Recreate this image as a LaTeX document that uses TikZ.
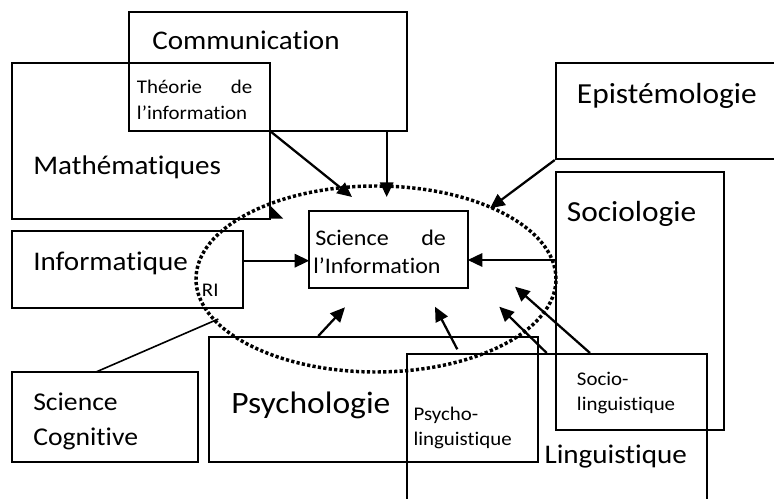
\documentclass[tikz,border=0pt]{standalone}
\usepackage{fontspec}
\setmainfont{Carlito}[FakeStretch=1.08,Ligatures=NoCommon]
\usetikzlibrary{arrows.meta,shapes.geometric}
\begin{document}
\begin{tikzpicture}[x=0.75pt,y=-0.75pt,
  box/.style={draw,line width=1.5pt,rectangle,inner sep=0pt},
  arr/.style={line width=1.7pt,-{Triangle[length=11pt,width=10pt]}},
  big/.style={anchor=base west,inner sep=0pt,font=\fontsize{20.2}{24}\selectfont},
  bigger/.style={anchor=base west,inner sep=0pt,font=\fontsize{21.8}{26}\selectfont},
  psyf/.style={anchor=base west,inner sep=0pt,font=\fontsize{23.3}{27}\selectfont},
  cogf/.style={anchor=base west,inner sep=0pt,font=\fontsize{19.2}{23}\selectfont},
  mid/.style={anchor=base west,inner sep=0pt,font=\fontsize{16.7}{20}\selectfont},
  small/.style={anchor=base west,inner sep=0pt,font=\fontsize{14.5}{17}\selectfont}]
\clip (0,0) rectangle (774,499);
\fill[white] (0,0) rectangle (774,499);
% boxes
\node[box,minimum width=208.5pt,minimum height=89.5pt] (comm) at (268.3,71.35) {};
\node[box,minimum width=193.3pt,minimum height=116.8pt] (math) at (141.15,141.15) {};
\node[box,minimum width=172.8pt,minimum height=58.2pt] (info) at (127.5,269.5) {};
\node[box,minimum width=139.5pt,minimum height=67.5pt] (cog) at (105.3,416.7) {};
\node[box,minimum width=246.75pt,minimum height=93.3pt] (psy) at (373.8,399.5) {};
\node[box,minimum width=225pt,minimum height=139.5pt] (ling) at (556.7,447) {};
\node[box,minimum width=126.2pt,minimum height=193.3pt] (soc) at (639.85,301.15) {};
\node[box,minimum width=183.2pt,minimum height=71.8pt] (epi) at (677.85,111.15) {};
\node[box,minimum width=118.8pt,minimum height=58.2pt] (sci) at (388.5,249.5) {};
% dotted ellipse
\node[ellipse,draw,line width=2.6pt,dash pattern=on 2.4pt off 1.7pt,minimum width=270pt,minimum height=139.5pt,inner sep=0pt] (ell) at (376,279) {};
% texts
\node[big] (tcomm) at (152,50) {Communication};
\node[small] (tth1) at (136.7,94) {\makebox[86.5pt][l]{Théorie\hfill de}};
\node[small] (tth2) at (136.7,120) {l’information};
\node[big] (tmath) at (33,175) {Mathématiques};
\node[big] (tinfo) at (33,270) {Informatique};
\node[small] (tri) at (201.7,296.7) {RI};
\node[cogf] (tcog1) at (33,410) {Science};
\node[cogf] (tcog2) at (33,445) {Cognitive};
\node[psyf] (tpsy) at (231,413) {Psychologie};
\node[small] (tpl1) at (413.3,420) {Psycho-};
\node[small] (tpl2) at (413.3,445) {linguistique};
\node[big] (tling) at (544.3,463.3) {Linguistique};
\node[bigger] (tsoc) at (566.7,221.7) {Sociologie};
\node[small] (tsl1) at (576.7,385) {Socio-};
\node[small] (tsl2) at (576.7,410) {linguistique};
\node[bigger] (tepi) at (576.7,103.3) {Epistémologie};
\node[mid] (tsci1) at (315,245) {\makebox[98pt][l]{Science\hfill de}};
\node[mid] (tsci2) at (313,273.3) {l’Information};
% connector end points
\coordinate (thcorner) at (270,131);
\coordinate (tip1) at (352,197);
\coordinate (cs) at (386.7,131);
\coordinate (tip2) at (386.7,197);
\coordinate (tip3) at (490,208.3);
\coordinate (socw) at (555.7,260);
\coordinate (scie) at (467.7,260);
\coordinate (infoe) at (242.7,260.7);
\coordinate (sciw) at (309.3,260.7);
\coordinate (sl1) at (590,353);
\coordinate (tip6) at (515,286.7);
\coordinate (sl2) at (546.7,353);
\coordinate (tip7) at (499.3,306.7);
\coordinate (pl) at (457.3,349.3);
\coordinate (tip8) at (435,306.7);
\coordinate (psyn) at (318.3,336);
\coordinate (tip9) at (345,307.3);
\coordinate (cogn) at (96.7,371.7);
\coordinate (cogend) at (218.3,319);
% connectors
\draw[arr] (thcorner) -- (tip1);
\draw[arr] (cs) -- (tip2);
\draw[arr] (epi.south west) -- (tip3);
\draw[arr] (socw) -- (scie);
\draw[arr] (infoe) -- (sciw);
\draw[arr] (sl1) -- (tip6);
\draw[arr] (sl2) -- (tip7);
\draw[arr] (pl) -- (tip8);
\draw[arr] (psyn) -- (tip9);
\draw[line width=1.2pt] (cogn) -- (cogend);
\fill (270.7,206) -- (270.7,218.5) -- (283,218.5) -- cycle;
\end{tikzpicture}
\end{document}
